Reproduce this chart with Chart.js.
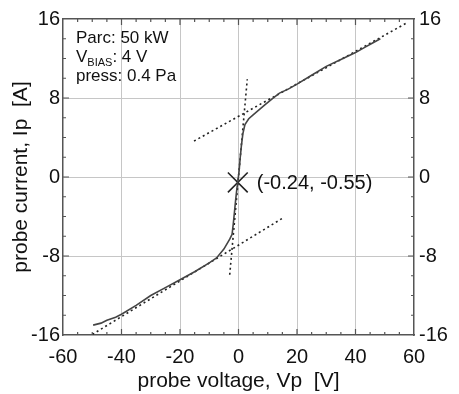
<!DOCTYPE html>
<html>
<head>
<meta charset="utf-8">
<script src="https://cdn.jsdelivr.net/npm/chart.js@4"></script>
<style>
  html, body { margin: 0; padding: 0; background: #fff; }
  canvas { display: block; }
</style>
</head>
<body>
<canvas id="iv" width="459" height="394"></canvas>
<script>
// probe I-V characteristic
const probeVoltage = [-49.7, -47, -45, -42, -40, -35, -30, -25, -20, -15, -10, -7.5, -5, -3, -2.2,
  -1.8, -1.4, -1.0, -0.6, -0.24, 0.2, 0.6, 1.0, 1.5, 2.2, 3.5, 5, 7, 9, 11.5, 14, 17, 20, 25, 30,
  35, 40, 43, 46, 48.5];
const probeCurrent = [-15.0, -14.8, -14.5, -14.2, -13.9, -13.0, -12.0, -11.2, -10.4, -9.6, -8.7, -8.2, -7.3, -6.3, -5.8,
  -4.8, -3.6, -2.4, -1.3, -0.5, 0.6, 2.0, 3.2, 4.4, 5.3, 5.9, 6.3, 6.8, 7.3, 7.9, 8.5, 8.9, 9.4, 10.3, 11.2,
  11.9, 12.6, 13.1, 13.6, 14.0];

// straight-line fits (end points)
const ionFitV = [-51.4, 15.2];
const ionFitI = [-16.2, -4.15];
const elecFitV = [-15.2, 57.5];
const elecFitI = [3.64, 15.6];
const steepFitV = [-3.0, 3.0];
const steepFitI = [-9.9, 9.9];

// floating point marker
const floatV = [-0.24];
const floatI = [-0.55];
const floatLabel = "(-0.24, -0.55)";

const infoLines = ["Parc: 50 kW", "V|BIAS|: 4 V", "press: 0.4 Pa"];

const xMin = -60, xMax = 60, xStep = 5, xMajor = 20;
const yMin = -16, yMax = 16, yStep = 2, yMajor = 8;

const FONT = "'Liberation Sans', Arial, Helvetica, sans-serif";
const INK = "#111";
const FRAME = "#555";

const pts = (xs, ys) => xs.map((x, i) => ({ x, y: ys[i] }));

const gridColor = (major) => (ctx) => {
  const v = ctx.tick ? ctx.tick.value : NaN;
  if (Math.abs(v % major) < 1e-9 && v !== xMin && v !== xMax && v !== yMin && v !== yMax) return "#c6c6c6";
  return "rgba(0,0,0,0)";
};

// inward tick marks on all four sides
const inwardTicks = {
  id: "inwardTicks",
  afterDraw(chart) {
    const { ctx, chartArea: a, scales } = chart;
    ctx.save();
    ctx.strokeStyle = FRAME;
    ctx.lineWidth = 1.2;
    ctx.beginPath();
    for (const t of scales.x.ticks) {
      if (t.value <= xMin || t.value >= xMax) continue;
      const px = scales.x.getPixelForValue(t.value);
      const len = t.value % xMajor === 0 ? 6 : 3;
      ctx.moveTo(px, a.bottom); ctx.lineTo(px, a.bottom - len);
      ctx.moveTo(px, a.top); ctx.lineTo(px, a.top + len);
    }
    for (const t of scales.y.ticks) {
      if (t.value <= yMin || t.value >= yMax) continue;
      const py = scales.y.getPixelForValue(t.value);
      const len = t.value % yMajor === 0 ? 6 : 3;
      ctx.moveTo(a.left, py); ctx.lineTo(a.left + len, py);
      ctx.moveTo(a.right, py); ctx.lineTo(a.right - len, py);
    }
    ctx.stroke();
    ctx.restore();
  }
};

// text: info block and the floating point label
const notes = {
  id: "notes",
  afterDraw(chart) {
    const { ctx, chartArea: a } = chart;
    ctx.save();
    ctx.fillStyle = INK;
    ctx.textBaseline = "alphabetic";
    ctx.textAlign = "left";
    const x0 = a.left + 13;
    infoLines.forEach((line, i) => {
      const y = a.top + 24 + i * 19;
      const parts = line.split("|");
      let x = x0;
      parts.forEach((p, j) => {
        const sub = j % 2 === 1;
        ctx.font = (sub ? "11px " : "17px ") + FONT;
        ctx.fillText(p, x, sub ? y + 4 : y);
        x += ctx.measureText(p).width;
      });
    });
    const m = chart.getDatasetMeta(4).data[0];
    ctx.font = "20px " + FONT;
    ctx.textBaseline = "middle";
    ctx.fillText(floatLabel, m.x + 19, m.y + 1);
    ctx.restore();
  }
};

const tickFont = { family: FONT, size: 20 };
const titleFont = { family: FONT, size: 21 };

new Chart(document.getElementById("iv"), {
  type: "scatter",
  data: {
    datasets: [
      { label: "Ip", data: pts(probeVoltage, probeCurrent), showLine: true, borderColor: "#444",
        borderWidth: 1.6, pointRadius: 0, tension: 0 },
      { label: "ion fit", data: pts(ionFitV, ionFitI), showLine: true, borderColor: "#222",
        borderWidth: 1.6, borderDash: [2, 3], pointRadius: 0 },
      { label: "electron fit", data: pts(elecFitV, elecFitI), showLine: true, borderColor: "#222",
        borderWidth: 1.6, borderDash: [2, 3], pointRadius: 0 },
      { label: "transition fit", data: pts(steepFitV, steepFitI), showLine: true, borderColor: "#222",
        borderWidth: 1.6, borderDash: [2, 3], pointRadius: 0 },
      { label: "floating", data: pts(floatV, floatI), showLine: false, pointStyle: "crossRot",
        pointRadius: 14, borderColor: "#222", borderWidth: 1.6, backgroundColor: "#222" }
    ]
  },
  options: {
    responsive: false,
    animation: false,
    layout: { padding: 0 },
    plugins: { legend: { display: false }, tooltip: { enabled: false } },
    scales: {
      x: {
        type: "linear", position: "bottom", min: xMin, max: xMax,
        afterFit: (s) => { s.height = 59; },
        ticks: {
          stepSize: xStep, autoSkip: false, maxRotation: 0, padding: 10, color: INK, font: tickFont,
          callback: (v) => (v % xMajor === 0 ? String(v) : "")
        },
        grid: { color: gridColor(xMajor), drawTicks: false, lineWidth: 1 },
        border: { display: true, color: FRAME, width: 1.5 },
        title: { display: true, text: "probe voltage, Vp  [V]", color: INK, font: titleFont, padding: { top: 0, bottom: 0 } }
      },
      x2: {
        type: "linear", position: "top", min: xMin, max: xMax,
        afterFit: (s) => { s.height = 19; },
        ticks: { display: false },
        grid: { display: false, drawTicks: false },
        border: { display: true, color: FRAME, width: 1.5 }
      },
      y: {
        type: "linear", position: "left", min: yMin, max: yMax,
        afterFit: (s) => { s.width = 63; },
        ticks: {
          stepSize: yStep, autoSkip: false, padding: 3, color: INK, font: tickFont,
          callback: (v) => (v % yMajor === 0 ? String(v) : "")
        },
        grid: { color: gridColor(yMajor), drawTicks: false, lineWidth: 1 },
        border: { display: true, color: FRAME, width: 1.5 },
        title: { display: true, text: "probe current, Ip  [A]", color: INK, font: titleFont, padding: { top: 9, bottom: 0 } }
      },
      y2: {
        type: "linear", position: "right", min: yMin, max: yMax,
        afterFit: (s) => { s.width = 45; },
        ticks: {
          stepSize: yStep, autoSkip: false, padding: 5, color: INK, font: tickFont,
          callback: (v) => (v % yMajor === 0 ? String(v) : "")
        },
        grid: { display: false, drawTicks: false },
        border: { display: true, color: FRAME, width: 1.5 }
      }
    }
  },
  plugins: [inwardTicks, notes]
});
</script>
</body>
</html>
